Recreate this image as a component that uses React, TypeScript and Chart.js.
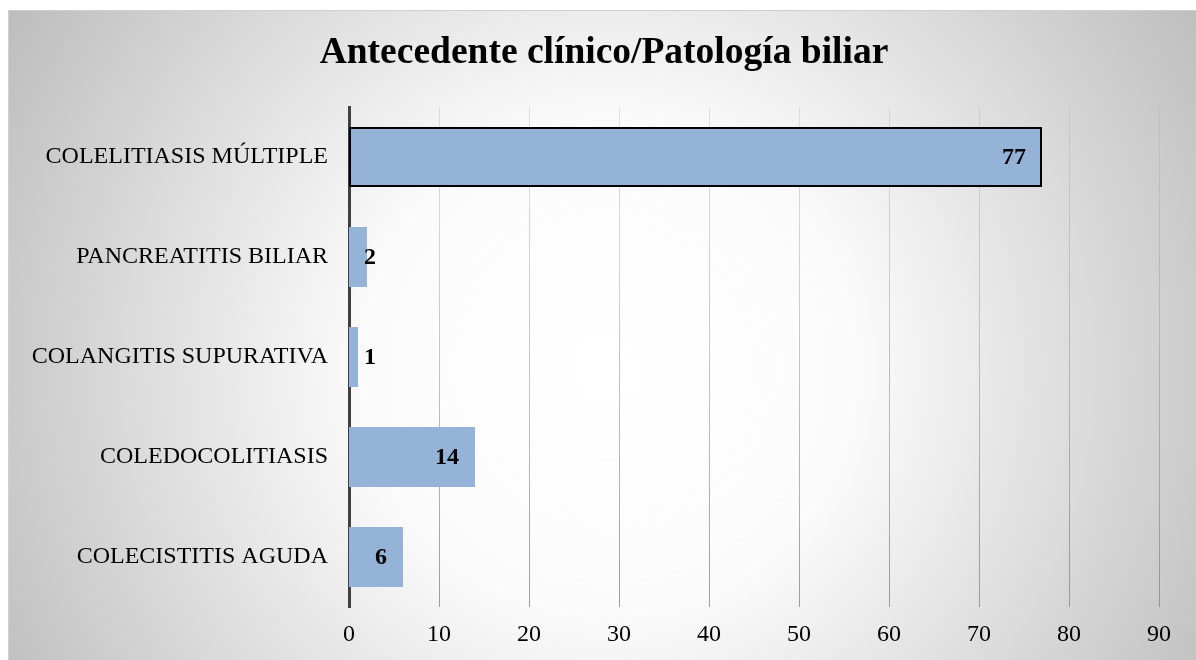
import React, { useEffect, useRef } from "react";
import { Chart, registerables } from "chart.js";

Chart.register(...registerables);

const TITLE = "Antecedente clínico/Patología biliar";
const CATEGORIES = [
  "COLELITIASIS MÚLTIPLE",
  "PANCREATITIS BILIAR",
  "COLANGITIS SUPURATIVA",
  "COLEDOCOLITIASIS",
  "COLECISTITIS AGUDA",
];
const VALUES = [77, 2, 1, 14, 6];
const X_MIN = 0;
const X_MAX = 90;
const X_STEP = 10;

const FONT = "'Liberation Serif', 'Times New Roman', serif";

const backgroundPlugin = {
  id: "bgGradient",
  beforeDraw(chart: any) {
    const { ctx, width, height } = chart;
    const cx = 600;
    const cy = height * 0.55;
    const r = Math.sqrt(cx * cx + cy * cy);
    const g = ctx.createRadialGradient(cx, cy, 0, cx, cy, r);
    g.addColorStop(0, "#ffffff");
    g.addColorStop(0.35, "#fbfbfb");
    g.addColorStop(1, "#bdbdbd");
    ctx.save();
    ctx.fillStyle = g;
    ctx.fillRect(0, 0, width, height);
    ctx.restore();
  },
};

const titlePlugin = {
  id: "customTitle",
  afterDraw(chart: any) {
    const { ctx } = chart;
    ctx.save();
    ctx.font = `bold 37.5px ${FONT}`;
    ctx.fillStyle = "#000000";
    ctx.textAlign = "center";
    ctx.textBaseline = "middle";
    ctx.fillText(TITLE, 595, 42);
    ctx.restore();
  },
};

const labelPlugin = {
  id: "barLabels",
  afterDatasetsDraw(chart: any) {
    const { ctx } = chart;
    const meta = chart.getDatasetMeta(0);
    ctx.save();
    ctx.font = `bold 24px ${FONT}`;
    ctx.fillStyle = "#000000";
    ctx.textBaseline = "middle";
    ctx.textAlign = "left";
    meta.data.forEach((bar: any, i: number) => {
      const txt = String(VALUES[i]);
      const w = ctx.measureText(txt).width;
      const right = Math.max(bar.x - 16, bar.base + 15 + w);
      ctx.fillText(txt, right - w, bar.y + 1);
    });
    ctx.restore();
  },
};

export default function App() {
  const ref = useRef<HTMLCanvasElement | null>(null);
  useEffect(() => {
    if (!ref.current) return;
    const chart = new Chart(ref.current, {
      type: "bar",
      data: {
        labels: CATEGORIES,
        datasets: [
          {
            data: VALUES,
            backgroundColor: "#95b3d7",
            borderColor: VALUES.map((_, i) => (i === 0 ? "#000000" : "#95b3d7")),
            borderWidth: VALUES.map((_, i) => (i === 0 ? 2 : 0)),
            borderSkipped: false,
            categoryPercentage: 1,
            barPercentage: 0.6,
          },
        ],
      },
      options: {
        indexAxis: "y",
        animation: false,
        responsive: false,
        maintainAspectRatio: false,
        layout: { padding: { left: 0, right: 37, top: 96, bottom: 0 } },
        plugins: {
          legend: { display: false },
          tooltip: { enabled: false },
          title: { display: false },
        },
        scales: {
          x: {
            min: X_MIN,
            max: X_MAX,
            ticks: {
              stepSize: X_STEP,
              color: "#000000",
              font: { family: FONT, size: 24 },
              padding: 13,
            },
            grid: {
              drawTicks: false,
              lineWidth: (c: any) => (c.index === 0 ? 0 : 1),
              color: (c: any) => {
                const chart = c.chart;
                const area = chart.chartArea;
                if (!area) return "#a6a6a6";
                const g = chart.ctx.createLinearGradient(0, area.top, 0, area.bottom);
                g.addColorStop(0, "rgba(170,170,170,0.3)");
                g.addColorStop(0.5, "rgba(150,150,150,0.55)");
                g.addColorStop(1, "rgba(140,140,140,0.85)");
                return g;
              },
            },
            border: { display: false },
            afterFit(scale: any) {
              scale.height = 53;
            },
          },
          y: {
            ticks: {
              color: "#000000",
              font: { family: FONT, size: 24 },
              padding: 21,
            },
            grid: { display: false, drawTicks: false },
            border: { display: true, color: "#404040", width: 3 },
            afterFit(scale: any) {
              scale.width = 340;
            },
          },
        },
      },
      plugins: [backgroundPlugin, labelPlugin, titlePlugin],
    } as any);
    return () => chart.destroy();
  }, []);

  return (
    <div
      style={{
        position: "absolute",
        left: 8,
        top: 10,
        width: 1188,
        height: 650,
        boxSizing: "border-box",
        borderTop: "1px solid #d0d0d0",
        borderLeft: "1px solid #d0d0d0",
      }}
    >
      <canvas ref={ref} width={1187} height={649} style={{ display: "block" }} />
    </div>
  );
}
